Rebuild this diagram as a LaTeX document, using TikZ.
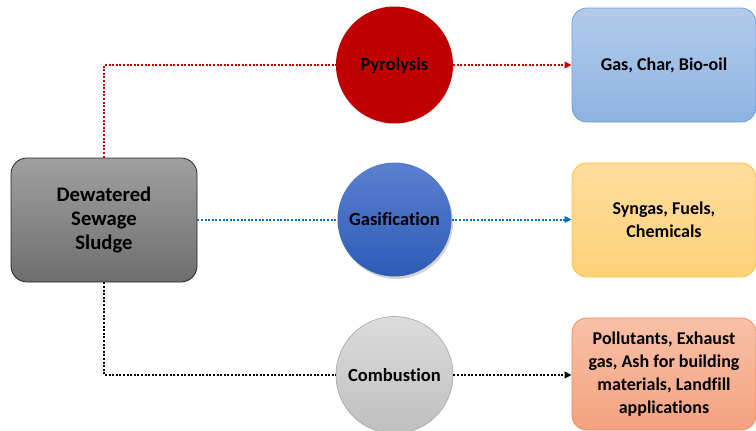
\documentclass[tikz,border=0pt]{standalone}
\usepackage{fontspec}
\setmainfont{Carlito}[Ligatures=CommonOff]
\usetikzlibrary{arrows.meta,shadows,calc}
\definecolor{pyro}{HTML}{C00000}
\definecolor{gasA}{HTML}{5B80D0}
\definecolor{gasB}{HTML}{2D5CB6}
\definecolor{comA}{HTML}{DCDCDC}
\definecolor{comB}{HTML}{BFBFBF}
\definecolor{comE}{HTML}{A6A6A6}
\definecolor{boxA}{HTML}{B3CBEA}
\definecolor{boxB}{HTML}{8DB3E2}
\definecolor{boxE}{HTML}{6A9FD8}
\definecolor{ylwA}{HTML}{FEDC9C}
\definecolor{ylwB}{HTML}{FED27A}
\definecolor{ylwE}{HTML}{F7C340}
\definecolor{orgA}{HTML}{F8C1A8}
\definecolor{orgB}{HTML}{F4A27E}
\definecolor{orgE}{HTML}{EF8A52}
\definecolor{srcA}{HTML}{A0A0A0}
\definecolor{srcB}{HTML}{6E6E6E}
\definecolor{blueline}{HTML}{0070C0}
\tikzset{
  proc/.style={circle, minimum size=117pt, inner sep=0pt, font=\bfseries\fontsize{18.5}{22}\selectfont, text=black},
  outbox/.style={rounded corners=15pt, minimum width=184pt, minimum height=114pt, align=center, line width=0.8pt, font=\bfseries\fontsize{18}{23}\selectfont, text=black},
  dots/.style={line width=2pt, dash pattern=on 2pt off 1.6pt},
  flow/.style={dots, -{Triangle[length=7pt,width=6.5pt]}},
}
\begin{document}
\begin{tikzpicture}[x=1pt,y=-1pt]
\useasboundingbox (0,0) rectangle (756,431);
% source
\node[rounded corners=16pt, minimum width=186pt, minimum height=124pt, draw=black!85, line width=0.8pt,
  top color=srcA, bottom color=srcB, align=center, font=\bfseries\fontsize{20.7}{24}\selectfont]
  (src) at (104,220) {Dewatered\\Sewage\\Sludge};
% processes
\node[proc, fill=pyro] (pyr) at (394.5,65) {Pyrolysis};
\node[proc, top color=gasA, bottom color=gasB, minimum size=114pt, drop shadow={shadow xshift=1.5pt,shadow yshift=-2.5pt,opacity=0.35}] (gas) at (394.5,219.5) {Gasification};
\node[proc, top color=comA, bottom color=comB, draw=comE, line width=0.6pt] (com) at (394.5,375) {Combustion};
% outputs
\node[outbox, top color=boxA, bottom color=boxB, draw=boxE] (o1) at (664,65) {Gas, Char, Bio-oil};
\node[outbox, top color=ylwA, bottom color=ylwB, draw=ylwE] (o2) at (664,220) {Syngas, Fuels,\\Chemicals};
\node[outbox, top color=orgA, bottom color=orgB, draw=orgE, minimum height=112pt] (o3) at (664,374) {Pollutants, Exhaust\\gas, Ash for building\\materials, Landfill\\applications};
% connectors
\draw[dots, pyro] (src.north) |- (pyr.west);
\draw[flow, pyro] (pyr.east) -- (o1.west);
\draw[dots, blueline] (src.east |- gas.west) -- (gas.west);
\draw[flow, blueline] (gas.east) -- (o2.west |- gas.east);
\draw[dots, black] (src.south) |- (com.west);
\draw[flow, black] (com.east) -- (o3.west |- com.east);
\end{tikzpicture}
\end{document}
